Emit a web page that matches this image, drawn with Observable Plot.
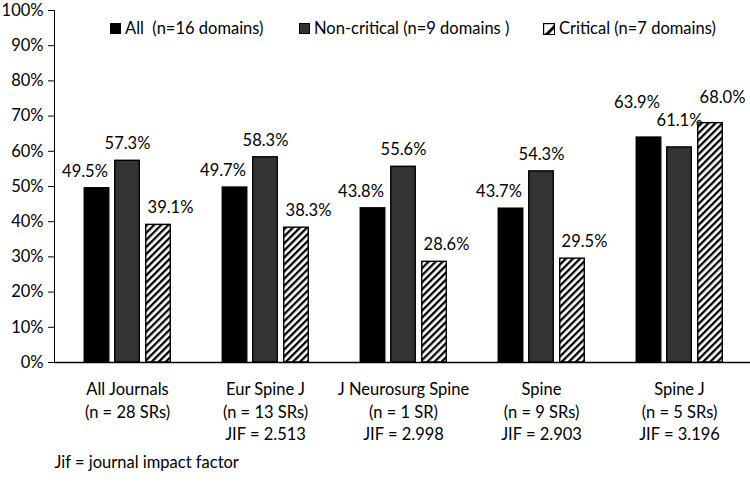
<!DOCTYPE html>
<html><head><meta charset="utf-8">
<script src="https://cdn.jsdelivr.net/npm/d3@7"></script>
<script src="https://cdn.jsdelivr.net/npm/@observablehq/plot@0.6"></script>
<style>
body{margin:0;background:#fff;font-family:Lato,"Open Sans",sans-serif;}
#wrap{position:relative;width:750px;height:482px;}
.leg{position:absolute;top:20px;font-size:16.5px;line-height:17px;white-space:pre;display:flex;align-items:center;color:#000;}
.sw{width:11px;height:11px;box-sizing:border-box;border:1.2px solid #000;margin-right:4px;}
</style></head><body><div id="wrap"></div><script>
// ---- data ----
const groups = ["All Journals", "Eur Spine J", "J Neurosurg Spine", "Spine", "Spine J"];
const groupSubtitles = ["(n = 28 SRs)", "(n = 13 SRs)", "(n = 1 SR)", "(n = 9 SRs)", "(n = 5 SRs)"];
const groupJIF = ["", "JIF = 2.513", "JIF = 2.998", "JIF = 2.903", "JIF = 3.196"];
const series = ["All  (n=16 domains)", "Non-critical (n=9 domains )", "Critical (n=7 domains)"];
const allValues = [49.5, 49.7, 43.8, 43.7, 63.9];
const nonCriticalValues = [57.3, 58.3, 55.6, 54.3, 61.1];
const criticalValues = [39.1, 38.3, 28.6, 29.5, 68.0];
const yTicks = [0, 10, 20, 30, 40, 50, 60, 70, 80, 90, 100];
const caption = "Jif = journal impact factor";

// ---- build table ----
const seriesValues = [allValues, nonCriticalValues, criticalValues];
const rows = [];
groups.forEach((g, i) => series.forEach((s, k) => rows.push({group: g, series: s, k, value: seriesValues[k][i]})));
const labelRows = groups.map((g, i) => ({group: g, text: [g, groupSubtitles[i], groupJIF[i]].filter(d => d).join("\n")}));

// ---- styles ----
const FS = 16.5;
const barOffset = [-30.5, 0, 31];
const labelShift = [-12, 0, 12];
const fills = ["#000", "#333", "url(#hatch)"];
const liftSpecial = {"Spine J": [-35, -27, -25]};
const BW = 25, STEP = 138.5;

const marks = [];
series.forEach((s, k) => {
  marks.push(Plot.barY(rows.filter(d => d.k === k), {
    x: "group", y: "value", fill: fills[k], stroke: "#000", strokeWidth: 1.4,
    insetLeft: (STEP - BW) / 2, insetRight: (STEP - BW) / 2, dx: barOffset[k]
  }));
});
rows.forEach(r => {
  const lift = liftSpecial[r.group] ? liftSpecial[r.group][r.k] : -17;
  marks.push(Plot.text([r], {
    x: "group", y: "value", text: d => d.value.toFixed(1) + "%",
    dx: barOffset[r.k] + labelShift[r.k], dy: lift, fill: "#000", fontSize: FS
  }));
});
marks.push(Plot.ruleY([0], {stroke: "#000", strokeWidth: 1.3}));
marks.push(Plot.text(labelRows, {
  x: "group", y: () => 0, text: "text", lineAnchor: "top", dy: 17, lineHeight: 1.36,
  fill: "#000", fontSize: FS
}));
marks.push(Plot.text([caption], {
  frameAnchor: "bottom-left", text: d => d, textAnchor: "start", dy: 105, fill: "#000", fontSize: FS
}));

const chart = Plot.plot({
  width: 750, height: 482,
  marginLeft: 54, marginRight: 0, marginTop: 10, marginBottom: 120,
  style: {fontFamily: "Lato, 'Open Sans', sans-serif", fontSize: FS + "px", color: "#000", background: "#fff", overflow: "visible"},
  x: {domain: groups, range: [56.75, 56.75 + STEP * 5], padding: 0, axis: null},
  y: {domain: [0, 100], ticks: yTicks, tickFormat: d => d + "%", tickSize: 6, tickPadding: 5, line: true, label: null},
  marks
});

// hatch pattern
const svg = d3.select(chart.tagName.toLowerCase() === "svg" ? chart : chart.querySelector("svg"));
const defs = svg.insert("defs", ":first-child");
const pat = defs.append("pattern").attr("id", "hatch").attr("patternUnits", "userSpaceOnUse")
  .attr("width", 5).attr("height", 5).attr("patternTransform", "rotate(45)");
pat.append("rect").attr("width", 5).attr("height", 5).attr("fill", "#fff");
pat.append("rect").attr("width", 2.3).attr("height", 5).attr("fill", "#000");

const wrap = document.getElementById("wrap");
wrap.appendChild(chart);

// legend
const legendItems = [
  {x: 110, label: series[0], sw: '<div class="sw" style="background:#000"></div>'},
  {x: 299, label: series[1], sw: '<div class="sw" style="background:#333;border-color:#000"></div>'},
  {x: 543, label: series[2], sw: '<svg width="12" height="12" style="margin-right:4px"><rect x="0.6" y="0.6" width="10.8" height="10.8" fill="#fff" stroke="#000" stroke-width="1.2"/><polygon points="11,2 11,11 2,11" fill="#000"/><polygon points="11,6 11,11 6,11" fill="#fff"/></svg>'}
];
legendItems.forEach(it => {
  const d = document.createElement("div");
  d.className = "leg";
  d.style.left = it.x + "px";
  d.innerHTML = it.sw + "<span></span>";
  d.querySelector("span").textContent = it.label;
  wrap.appendChild(d);
});
</script></body></html>
